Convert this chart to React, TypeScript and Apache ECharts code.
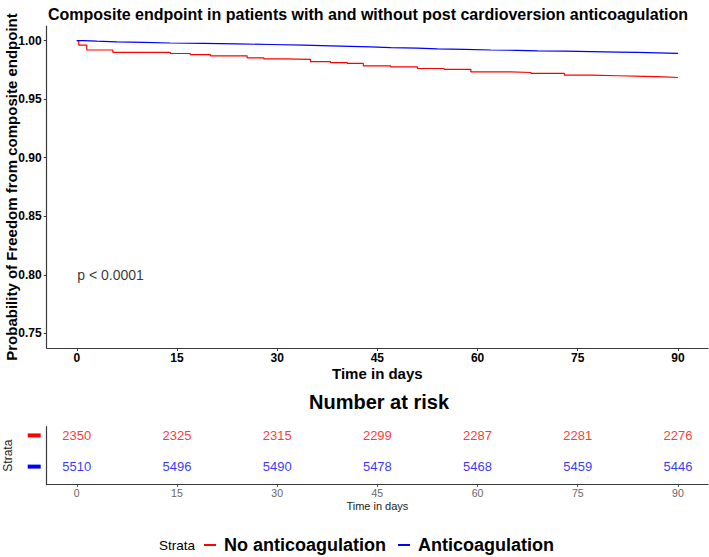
import React, { useEffect, useRef } from "react";
import * as echarts from "echarts";

// Kaplan-Meier estimates (day, survival)
const timesNo = [0, 0.3, 1.5, 5.4, 14, 17, 20, 25.5, 28, 31, 35, 38, 40.5, 42.9, 47, 51, 55, 59, 65, 68, 73, 77, 81, 85, 88, 90];
const survNo = [1.0, 0.9962, 0.992, 0.99, 0.989, 0.988, 0.987, 0.9853, 0.9845, 0.984, 0.982, 0.9812, 0.9805, 0.9785, 0.9776, 0.9762, 0.9755, 0.9733, 0.9728, 0.972, 0.9705, 0.97, 0.9695, 0.969, 0.9685, 0.9682];
const timesAnti = [0, 1, 3, 6, 10, 14, 19, 24, 29, 34, 38, 41, 44, 47, 51, 54, 58, 62, 66, 69, 73, 77, 81, 84, 87, 90];
const survAnti = [1.0, 0.9995, 0.999, 0.9985, 0.998, 0.9976, 0.9972, 0.9967, 0.9962, 0.9956, 0.9951, 0.9947, 0.9941, 0.9936, 0.993, 0.9925, 0.992, 0.9917, 0.9913, 0.991, 0.9906, 0.9902, 0.9899, 0.9895, 0.9891, 0.9887];

const riskTimes = [0, 15, 30, 45, 60, 75, 90];
const riskNo = [2350, 2325, 2315, 2299, 2287, 2281, 2276];
const riskAnti = [5510, 5496, 5490, 5478, 5468, 5459, 5446];

const xTicks = [0, 15, 30, 45, 60, 75, 90];
const yTicks = [0.75, 0.8, 0.85, 0.9, 0.95, 1.0];
const strataNames = ["No anticoagulation", "Anticoagulation"];

const RED = "#ff0000";
const BLUE = "#0000ff";
const AXIS = "#3a3a3a";
const FONT = "'Liberation Sans', Arial, sans-serif";

export default function App() {
  const ref = useRef<HTMLDivElement>(null);
  useEffect(() => {
    if (!ref.current) return;
    const chart = echarts.init(ref.current, undefined, { renderer: "svg" });
    const option: any = {
      animation: false,
      textStyle: { fontFamily: FONT },
      title: [
        {
          text: "Composite endpoint in patients with and without post cardioversion anticoagulation",
          left: 48,
          top: 6,
          padding: 0,
          textStyle: { fontSize: 16, fontWeight: "bold", color: "#000", fontFamily: FONT },
        },
        {
          text: "Number at risk",
          left: 309,
          top: 392,
          padding: 0,
          textStyle: { fontSize: 20, fontWeight: "bold", color: "#000", fontFamily: FONT },
        },
      ],
      legend: {
        data: strataNames,
        left: 204,
        top: 536,
        padding: 0,
        icon: "rect",
        itemWidth: 12,
        itemHeight: 2,
        itemGap: 12,
        textStyle: { fontSize: 18, fontWeight: "bold", color: "#000", fontFamily: FONT, padding: [0, 0, 0, 3] },
      },
      graphic: [
        {
          type: "text",
          left: 159,
          top: 538,
          style: { text: "Strata", fontSize: 13.5, fill: "#000", fontFamily: FONT },
        },
      ],
      grid: [
        { left: 46.7, right: 1, top: 26, bottom: 209, containLabel: false, outerBoundsMode: "none" },
        { left: 46.7, right: 1, top: 426.7, bottom: 72.3, containLabel: false, outerBoundsMode: "none" },
      ],
      xAxis: [
        {
          type: "value",
          gridIndex: 0,
          min: -4.5,
          max: 94.5,
          name: "Time in days",
          nameLocation: "middle",
          nameGap: 17.5,
          nameMoveOverlap: false,
          nameTextStyle: { fontSize: 15, fontWeight: "bold", color: "#000", fontFamily: FONT },
          axisLine: { show: true, onZero: false, lineStyle: { color: AXIS, width: 1.2 } },
          axisTick: { show: true, customValues: xTicks, length: 3, lineStyle: { color: AXIS } },
          axisLabel: { customValues: xTicks, fontSize: 12, fontWeight: "bold", color: "#000", margin: 4 },
          splitLine: { show: false },
        },
        {
          type: "value",
          gridIndex: 1,
          min: -4.5,
          max: 94.5,
          name: "Time in days",
          nameLocation: "middle",
          nameGap: 16,
          nameTextStyle: { fontSize: 11, color: "#222", fontFamily: FONT },
          axisLine: { show: true, onZero: false, lineStyle: { color: AXIS, width: 1.2 } },
          axisTick: { show: true, customValues: xTicks, length: 2, lineStyle: { color: AXIS } },
          axisLabel: { customValues: xTicks, fontSize: 10.5, color: "#666", margin: 3 },
          splitLine: { show: false },
        },
      ],
      yAxis: [
        {
          type: "value",
          gridIndex: 0,
          min: 0.7375,
          max: 1.0125,
          name: "Probability of Freedom from composite endpoint",
          nameLocation: "middle",
          nameGap: 27.5,
          nameMoveOverlap: false,
          nameRotate: 90,
          nameTextStyle: { fontSize: 15, fontWeight: "bold", color: "#000", fontFamily: FONT },
          axisLine: { show: true, onZero: false, lineStyle: { color: AXIS, width: 1.2 } },
          axisTick: { show: true, customValues: yTicks, length: 3, lineStyle: { color: AXIS } },
          axisLabel: {
            customValues: yTicks,
            fontSize: 12,
            fontWeight: "bold",
            color: "#000",
            margin: 5,
            formatter: (v: number) => v.toFixed(2),
          },
          splitLine: { show: false },
        },
        {
          type: "value",
          gridIndex: 1,
          min: 0.42,
          max: 2.28,
          name: "Strata",
          nameLocation: "middle",
          nameGap: 33,
          nameRotate: 90,
          nameTextStyle: { fontSize: 12, color: "#222", fontFamily: FONT },
          axisLine: { show: true, onZero: false, lineStyle: { color: AXIS, width: 1.2 } },
          axisTick: { show: false },
          axisLabel: {
            customValues: [1, 2],
            margin: 6,
            formatter: (v: number) => (v === 2 ? "{r| }" : "{b| }"),
            rich: {
              r: { width: 13, height: 4, backgroundColor: RED, fontSize: 1 },
              b: { width: 13, height: 4, backgroundColor: BLUE, fontSize: 1 },
            },
          },
          splitLine: { show: false },
        },
      ],
      series: [
        {
          name: strataNames[0],
          type: "line",
          step: "end",
          xAxisIndex: 0,
          yAxisIndex: 0,
          showSymbol: false,
          symbol: "none",
          color: RED,
          lineStyle: { color: RED, width: 1.2 },
          data: timesNo.map((t, i) => [t, survNo[i]]),
        },
        {
          name: strataNames[1],
          type: "line",
          step: "end",
          xAxisIndex: 0,
          yAxisIndex: 0,
          showSymbol: false,
          symbol: "none",
          color: BLUE,
          lineStyle: { color: BLUE, width: 1.2 },
          data: timesAnti.map((t, i) => [t, survAnti[i]]),
        },
        {
          name: "pvalue",
          type: "scatter",
          xAxisIndex: 0,
          yAxisIndex: 0,
          symbolSize: 1,
          itemStyle: { color: "rgba(0,0,0,0)" },
          label: {
            show: true,
            position: "right",
            distance: 0,
            formatter: "p < 0.0001",
            fontSize: 14,
            color: "#000",
            fontFamily: FONT,
          },
          data: [[0, 0.8]],
        },
        {
          name: "riskNo",
          type: "scatter",
          xAxisIndex: 1,
          yAxisIndex: 1,
          symbolSize: 1,
          itemStyle: { color: "rgba(0,0,0,0)" },
          label: {
            show: true,
            position: "inside",
            formatter: (p: any) => String(p.value[2]),
            fontSize: 13,
            color: RED,
            fontFamily: FONT,
          },
          data: riskTimes.map((t, i) => [t, 2, riskNo[i]]),
        },
        {
          name: "riskAnti",
          type: "scatter",
          xAxisIndex: 1,
          yAxisIndex: 1,
          symbolSize: 1,
          itemStyle: { color: "rgba(0,0,0,0)" },
          label: {
            show: true,
            position: "inside",
            formatter: (p: any) => String(p.value[2]),
            fontSize: 13,
            color: BLUE,
            fontFamily: FONT,
          },
          data: riskTimes.map((t, i) => [t, 1, riskAnti[i]]),
        },
      ],
    };
    chart.setOption(option);
    return () => chart.dispose();
  }, []);
  return (
    <div
      ref={ref}
      style={{ position: "fixed", left: 0, top: 0, width: 709, height: 557, background: "#fff" }}
    />
  );
}
